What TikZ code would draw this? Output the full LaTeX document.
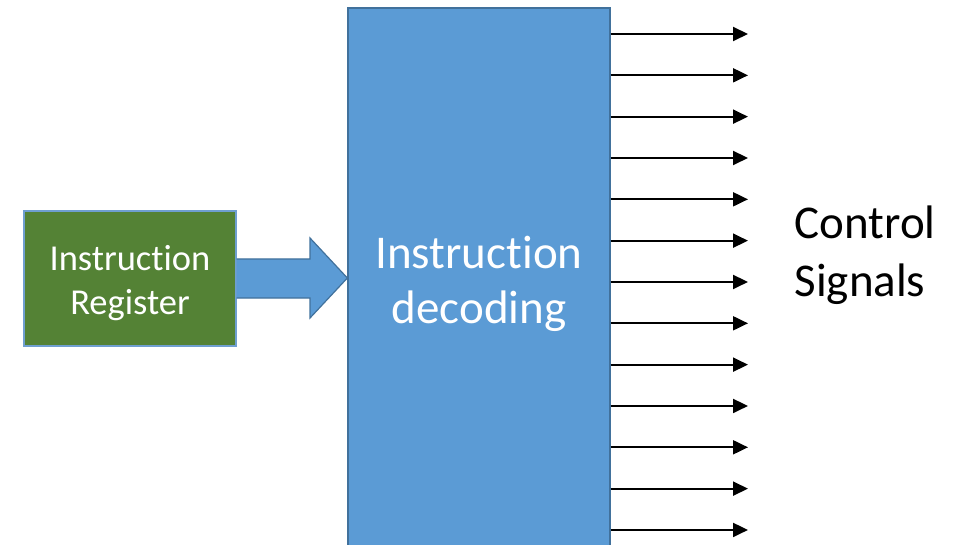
\documentclass[tikz,border=0pt]{standalone}
\usepackage{fontspec}
\setmainfont{Carlito}[Ligatures=NoCommon]
\usetikzlibrary{arrows.meta}
\definecolor{decblue}{HTML}{5B9BD5}
\definecolor{decborder}{HTML}{41719C}
\definecolor{irgreen}{HTML}{548235}
\definecolor{irborder}{HTML}{6F9FD0}
\tikzset{
  box/.style={rectangle, inner sep=0pt, line width=1.3pt},
  sig/.style={line width=2pt, -{Triangle[length=15pt,width=14pt]}},
}
\begin{document}
\begin{tikzpicture}[x=1pt,y=-1pt]
\useasboundingbox (0,0) rectangle (958,545);
\node[box, draw=decborder, fill=decblue, minimum width=262pt, minimum height=560pt] (dec) at (479,288) {};
\node[box, draw=irborder, fill=irgreen, minimum width=212pt, minimum height=135pt] (ir) at (130,278.5) {};
\node[text=white, font=\fontsize{36.5}{44}\selectfont, align=center] (irt) at (130,283) {Instruction\\Register};
\node[text=white, font=\fontsize{47}{55}\selectfont, align=center] (dect) at (479,284) {Instruction\\decoding};
\node[text=black, font=\fontsize{47}{58}\selectfont, align=left, anchor=west] (cs) at (791,255) {Control\\Signals};
\draw[draw=decborder, fill=decblue, line width=1.2pt, line join=miter]
  (ir.east |- 0,259) -- (310,259) -- (310,238) -- (dec.west |- 0,278) -- (310,318) -- (310,298) -- (ir.east |- 0,298);
\foreach \i in {0,...,12} {
  \coordinate (e\i) at (748,{34+\i*41.33});
  \draw[sig] (dec.east |- e\i) -- (e\i);
}
\end{tikzpicture}
\end{document}
